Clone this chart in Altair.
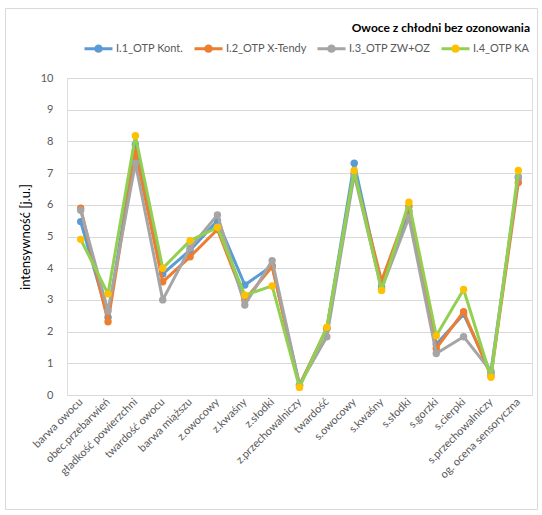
import altair as alt
import pandas as pd

# Sensory attributes scored for each sample
categories = [
    "barwa owocu", "obec.przebarwień", "gładkość powierzchni", "twardość owocu",
    "barwa miąższu", "z.owocowy", "z.kwaśny", "z.słodki", "z.przechowalniczy",
    "twardość", "s.owocowy", "s.kwaśny", "s.słodki", "s.gorzki", "s.cierpki",
    "s.przechowalniczy", "og. ocena sensoryczna",
]

series_names = ["I.1_OTP Kont.", "I.2_OTP X-Tendy", "I.3_OTP ZW+OZ", "I.4_OTP KA"]

kont = [5.47, 2.45, 7.90, 3.82, 4.57, 5.50, 3.47, 4.08, 0.30, 2.10, 7.31, 3.42, 5.80, 1.60, 2.55, 0.70, 6.85]
x_tendy = [5.89, 2.31, 7.68, 3.57, 4.36, 5.22, 3.00, 4.05, 0.30, 2.10, 7.00, 3.60, 5.95, 1.47, 2.63, 0.60, 6.70]
zw_oz = [5.83, 2.65, 7.31, 3.00, 4.64, 5.68, 2.84, 4.24, 0.32, 1.84, 6.95, 3.35, 5.60, 1.31, 1.84, 0.75, 6.89]
ka = [4.91, 3.19, 8.18, 4.00, 4.87, 5.29, 3.15, 3.44, 0.24, 2.14, 7.08, 3.30, 6.08, 1.87, 3.33, 0.56, 7.08]

y_ticks = list(range(0, 11))

line_colors = ["#5B9BD5", "#ED7D31", "#A5A5A5", "#92D050"]
marker_colors = ["#5B9BD5", "#ED7D31", "#A5A5A5", "#FFC000"]

FONT = "Lato"
GRID = "#D9D9D9"
TEXT = "#595959"

rows = []
for name, vals in zip(series_names, [kont, x_tendy, zw_oz, ka]):
    for cat, v in zip(categories, vals):
        rows.append({"cecha": cat, "wartosc": v, "seria": name, "znacznik": name})
df = pd.DataFrame(rows)

x_enc = alt.X(
    "cecha:N",
    sort=categories,
    scale=alt.Scale(type="point", padding=0.5),
    axis=alt.Axis(
        title=None, labelAngle=-45, labelAlign="right", labelBaseline="middle",
        labelPadding=5, labelFont=FONT, labelFontSize=11, labelColor=TEXT,
        ticks=False, domain=False, grid=False, labelOverlap=False,
    ),
)
y_enc = alt.Y(
    "wartosc:Q",
    scale=alt.Scale(domain=[0, 10], nice=False, zero=True),
    axis=alt.Axis(
        values=y_ticks, title="intensywność  [j.u.]", titleFont=FONT,
        titleFontSize=13, titleFontWeight="normal", titleColor="#000000",
        titlePadding=8, labelFont=FONT, labelFontSize=11, labelColor=TEXT,
        labelPadding=14, ticks=False, domain=False, grid=True, gridColor=GRID,
        gridWidth=1,
    ),
)

# Line legend and marker legend share one layout and sit on top of each other
legend_common = dict(
    title=None, orient="none", legendX=16, legendY=-45, direction="horizontal",
    columns=4, symbolSize=784, symbolStrokeWidth=3, labelFont=FONT,
    labelFontSize=11, labelColor=TEXT, labelOffset=2, columnPadding=4,
)
line_legend = alt.Legend(symbolType="M-1,0L1,0", **legend_common)
dot_legend = alt.Legend(
    symbolType="M-1,0L1,0M-0.3,0A0.3,0.3 0 1,1 0.3,0A0.3,0.3 0 1,1 -0.3,0Z",
    symbolStrokeColor="transparent", symbolOpacity=1, labelOpacity=0,
    **legend_common,
)

stroke_scale = alt.Scale(range=line_colors)
fill_scale = alt.Scale(range=marker_colors)

layers = []

# Light frame around the whole chart area
frame = alt.Chart(alt.Data(values=[{}])).mark_rect(
    fill="transparent", stroke=GRID, strokeWidth=1
).encode(
    x=alt.value(-61.5), x2=alt.value(470.5), y=alt.value(-69.5), y2=alt.value(431.5)
)
layers.append(frame)

base = alt.Chart(df)
for name in series_names:
    part = base.transform_filter(alt.datum.seria == name)
    line = part.mark_line(strokeWidth=3, strokeJoin="round", strokeCap="round").encode(
        x=x_enc, y=y_enc,
        stroke=alt.Stroke("seria:N", scale=stroke_scale, legend=line_legend),
    )
    dots = part.mark_point(filled=True, size=55, opacity=1, strokeWidth=0).encode(
        x=x_enc, y=y_enc,
        fill=alt.Fill("znacznik:N", scale=fill_scale, legend=dot_legend),
    )
    layers += [line, dots]

title = alt.Chart(alt.Data(values=[{"t": "Owoce z chłodni bez ozonowania"}])).mark_text(
    font=FONT, fontSize=12, fontWeight="bold", color="#000000",
    align="right", baseline="middle",
).encode(x=alt.value(463), y=alt.value(-50), text="t:N")
layers.append(title)

chart = alt.layer(*layers).properties(
    width=465, height=317,
    autosize=alt.AutoSizeParams(type="none"),
    padding={"left": 67, "top": 78, "right": 10, "bottom": 120},
).configure_view(stroke=None).configure(background="white")

chart.save("out.html", embed_options={"renderer": "svg", "actions": False})
